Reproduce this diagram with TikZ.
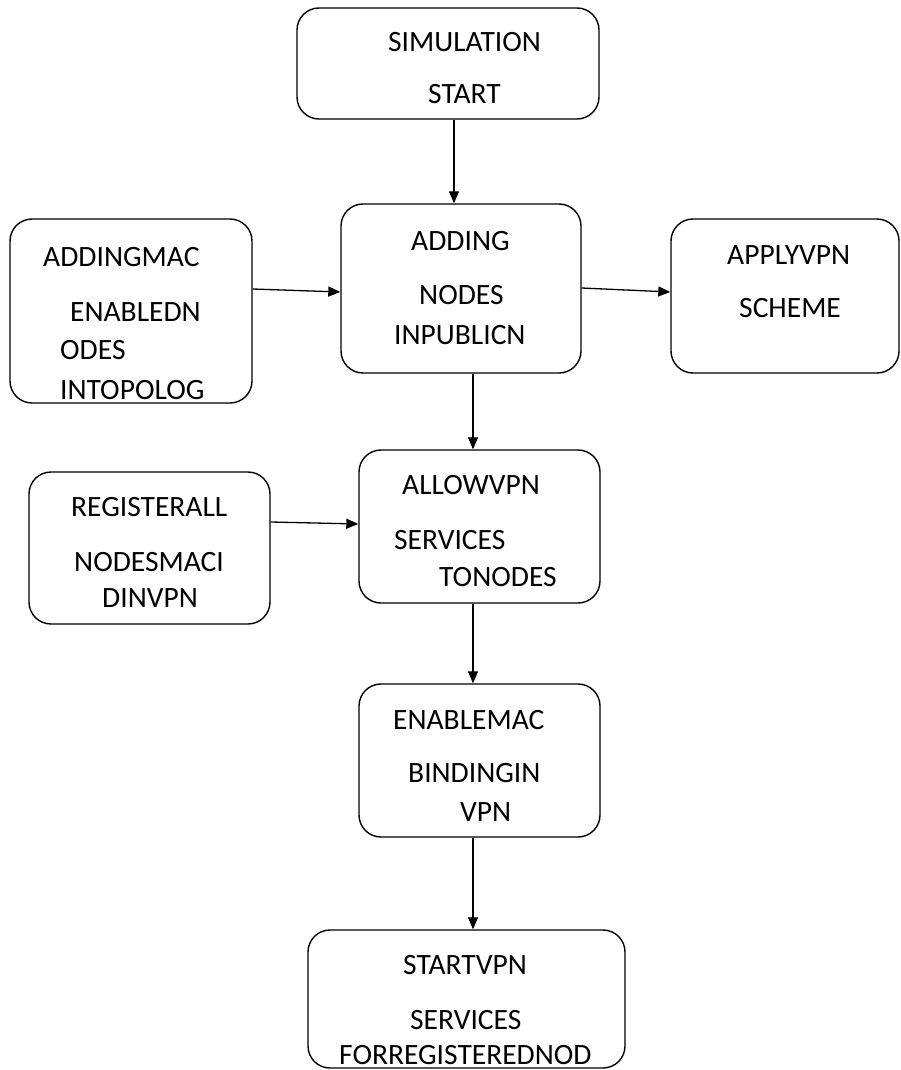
\documentclass[tikz,border=0pt]{standalone}
\usepackage{fontspec}
\setmainfont{Carlito}
\usetikzlibrary{arrows.meta}
\begin{document}
\begin{tikzpicture}[x=1pt,y=-1pt,
  box/.style={draw=black,line width=1.4pt,rounded corners=22pt,rectangle,inner sep=0pt},
  lbl/.style={anchor=west,inner sep=0pt,font=\fontsize{29.5}{30}\selectfont},
  arr/.style={draw=black,line width=1.3pt,-{Triangle[length=12pt,width=10pt]}}]
\useasboundingbox (0,0) rectangle (901,1070);
% boxes
\node[box,minimum width=302pt,minimum height=111pt] (b1) at (448,63.5) {};
\node[box,minimum width=240pt,minimum height=169pt] (b2) at (461,288.5) {};
\node[box,minimum width=242pt,minimum height=184pt] (bl) at (131,311) {};
\node[box,minimum width=228pt,minimum height=154pt] (br) at (785,296) {};
\node[box,minimum width=241pt,minimum height=153pt] (b3) at (479.5,526.5) {};
\node[box,minimum width=241pt,minimum height=152pt] (breg) at (149.5,548) {};
\node[box,minimum width=241pt,minimum height=153pt] (b4) at (479.5,760.5) {};
\node[box,minimum width=317pt,minimum height=138pt] (b5) at (466.5,999) {};
% texts
\node[lbl] (t1a) at (388,42) {SIMULATION};
\node[lbl] (t1b) at (428,94) {START};
\node[lbl] (t2a) at (411,241) {ADDING};
\node[lbl] (t2b) at (419,295) {NODES};
\node[lbl] (t2c) at (394,335) {INPUBLICN};
\node[lbl] (tla) at (43,257) {ADDINGMAC};
\node[lbl] (tlb) at (70,312) {ENABLEDN};
\node[lbl] (tlc) at (60,350) {ODES};
\node[lbl] (tld) at (60,390) {INTOPOLOG};
\node[lbl] (tra) at (727,255) {APPLYVPN};
\node[lbl] (trb) at (739,308) {SCHEME};
\node[lbl] (t3a) at (402,485) {ALLOWVPN};
\node[lbl] (t3b) at (394,540) {SERVICES};
\node[lbl] (t3c) at (439,577) {TONODES};
\node[lbl] (tga) at (71,507) {REGISTERALL};
\node[lbl] (tgb) at (74,562) {NODESMACI};
\node[lbl] (tgc) at (102,598) {DINVPN};
\node[lbl] (t4a) at (393,720) {ENABLEMAC};
\node[lbl] (t4b) at (408,773) {BINDINGIN};
\node[lbl] (t4c) at (460,812) {VPN};
\node[lbl] (t5a) at (403,965) {STARTVPN};
\node[lbl] (t5b) at (410,1020) {SERVICES};
\node[lbl] (t5c) at (339,1055) {FORREGISTEREDNOD};
% connectors
\draw[arr] ([xshift=6pt]b1.south) -- ([xshift=-7pt]b2.north);
\draw[arr] ([xshift=12pt]b2.south) -- ([xshift=-6.5pt]b3.north);
\draw[arr] ([xshift=-6.5pt]b3.south) -- ([xshift=-6.5pt]b4.north);
\draw[arr] ([xshift=-6.5pt]b4.south) -- ([xshift=6.5pt]b5.north);
\draw[arr] ([yshift=22pt]bl.east) -- ([yshift=-3.5pt]b2.west);
\draw[arr] ([yshift=0.5pt]b2.east) -- ([yshift=4pt]br.west);
\draw[arr] ([yshift=26pt]breg.east) -- ([yshift=2.5pt]b3.west);
\end{tikzpicture}
\end{document}
